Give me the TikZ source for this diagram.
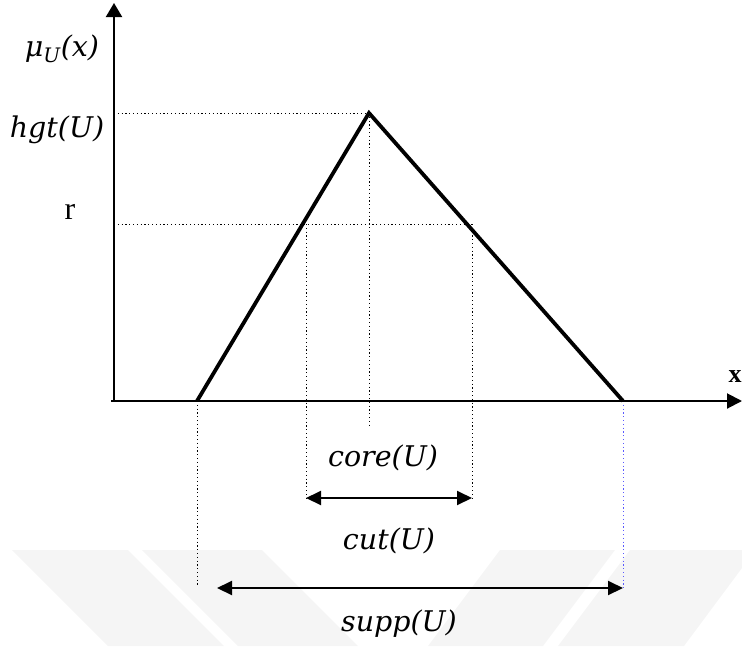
\documentclass[tikz,border=0pt]{standalone}
\usepackage{fontspec}
\setmainfont{Liberation Serif}
\newfontfamily\labfont{DejaVu Serif}
\usetikzlibrary{arrows.meta}
\definecolor{wm}{RGB}{245,245,245}
\definecolor{dotblue}{RGB}{90,90,255}
\tikzset{
  axis/.style={line width=2pt,-{Triangle[length=15pt,width=15pt]}},
  leg/.style={line width=3.8pt,line join=miter},
  guide/.style={line width=1pt,dash pattern=on 1.2pt off 2.6pt},
  span/.style={line width=2pt,{Triangle[length=15pt,width=14pt]}-{Triangle[length=15pt,width=14pt]}},
  mlab/.style={font=\labfont\itshape\fontsize{28.5}{32}\selectfont,inner sep=0pt},
  tlab/.style={font=\fontsize{32}{36}\selectfont,inner sep=0pt},
  band/.style={fill=wm,draw=none}
}
\begin{document}
\begin{tikzpicture}[x=1pt,y=-1pt]
\useasboundingbox (0,0) rectangle (742,646);
% watermark
\fill[band] (12,550) -- (128,550) -- (224,646) -- (108,646) -- cycle;
\fill[band] (142,550) -- (262,550) -- (358,646) -- (238,646) -- cycle;
\fill[band] (500,550) -- (615,550) -- (543,646) -- (428,646) -- cycle;
\fill[band] (630,550) -- (742,550) -- (742,568) -- (684,646) -- (558,646) -- cycle;
% coordinates
\coordinate (O) at (114,401);
\coordinate (Xs) at (111,401);
\coordinate (Xe) at (742,401);
\coordinate (Ye) at (114,3);
\coordinate (A) at (197,401);
\coordinate (P) at (369,113);
\coordinate (B) at (623,401);
\coordinate (H) at (114,113);
\coordinate (R) at (114,224);
\coordinate (RL) at (306,224);
\coordinate (RR) at (472,224);
\coordinate (Pd) at (369,426);
\coordinate (CL) at (306,498);
\coordinate (CR) at (472,498);
\coordinate (Ad) at (197,586);
\coordinate (Bd) at (623,588);
\coordinate (SL) at (217,588);
% guides
\draw[guide] (H) -- (P);
\draw[guide] (R) -- (RR);
\draw[guide] (P) -- (Pd);
\draw[guide] (RL) -- (CL);
\draw[guide] (RR) -- (CR);
\draw[guide] (A) -- (Ad);
\draw[guide,dotblue] (B) -- (Bd);
% axes
\draw[line width=2pt,-{Triangle[length=14pt,width=16pt]}] (O) -- (Ye);
\draw[axis] (Xs) -- (Xe);
% membership function
\draw[leg] (A) -- (P) -- (B);
% spans
\draw[span] (CL) -- (CR);
\draw[span] (SL) -- (Bd);
% labels
\node[mlab] (mu) at (62,49) {μ\textsubscript{U}(x)};
\node[mlab] (hgt) at (57,130) {hgt(U)};
\node[tlab] (r) at (70,212) {r};
\node[font=\bfseries\fontsize{26}{30}\selectfont,inner sep=0pt] (x) at (735,377) {x};
\node[mlab] (core) at (383,458) {core(U)};
\node[mlab] (cut) at (389,541) {cut(U)};
\node[mlab] (supp) at (399,624) {supp(U)};
\end{tikzpicture}
\end{document}
